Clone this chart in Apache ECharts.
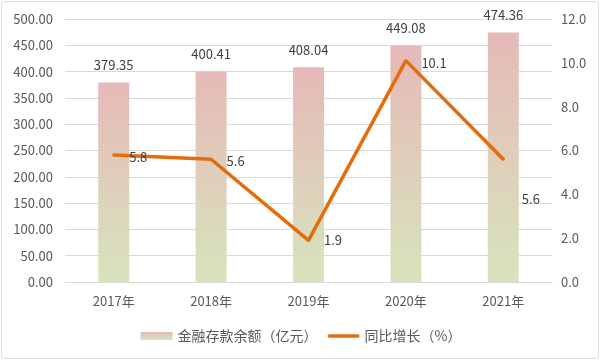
<!DOCTYPE html>
<html><head><meta charset="utf-8">
<script src="https://cdn.jsdelivr.net/npm/echarts@6/dist/echarts.min.js"></script>
<style>
html,body{margin:0;padding:0;background:#fff;}
#wrap{position:absolute;left:1px;top:1px;width:598px;height:358px;border:1px solid #d9d9d9;border-radius:3px;box-sizing:border-box;}
#c{position:absolute;left:0;top:0;width:602px;height:362px;}
</style></head>
<body>
<div id="wrap"></div>
<div id="c"></div>
<script>
const categories = ['2017年','2018年','2019年','2020年','2021年'];
const deposits = [379.35, 400.41, 408.04, 449.08, 474.36];
const growth = [5.8, 5.6, 1.9, 10.1, 5.6];
const leftTicks = {min:0, max:500, interval:50};
const rightTicks = {min:0, max:12, interval:2};
const seriesNames = ['金融存款余额（亿元）','同比增长（%）'];

const font = '"Noto Sans CJK SC", "DejaVu Sans", sans-serif';
const lineLabelOffsets = [[0,2],[0,2],[0,0],[0,2],[3,40]];

const chart = echarts.init(document.getElementById('c'));
chart.setOption({
  animation:false,
  textStyle:{fontFamily:font},
  grid:{left:65, right:50, top:19, bottom:80},
  legend:{
    bottom:14, left:'center', itemGap:10, itemWidth:32, itemHeight:8,
    textStyle:{color:'#595959', fontSize:14, fontFamily:font},
    data:[
      {name:seriesNames[0], icon:'rect'},
      {name:seriesNames[1], icon:'path://M2,0 h32 a2,2 0 0 1 0,4 h-32 a2,2 0 0 1 0,-4 z', itemStyle:{color:'#E46C0A'}}
    ]
  },
  xAxis:{
    type:'category', data:categories,
    axisLine:{lineStyle:{color:'#d9d9d9'}},
    axisTick:{show:false},
    axisLabel:{color:'#595959', fontSize:13, margin:13, fontFamily:font}
  },
  yAxis:[
    {type:'value', min:leftTicks.min, max:leftTicks.max, interval:leftTicks.interval,
     axisLabel:{color:'#595959', fontSize:13, margin:12, formatter:v=>v.toFixed(2)},
     splitLine:{lineStyle:{color:'#d9d9d9'}}, axisLine:{show:false}, axisTick:{show:false}},
    {type:'value', min:rightTicks.min, max:rightTicks.max, interval:rightTicks.interval,
     axisLabel:{color:'#595959', fontSize:13, margin:9, formatter:v=>v.toFixed(1)},
     splitLine:{show:false}, axisLine:{show:false}, axisTick:{show:false}}
  ],
  series:[
    {name:seriesNames[0], type:'bar', yAxisIndex:0, data:deposits, barWidth:31,
     itemStyle:{color:new echarts.graphic.LinearGradient(0,0,0,1,[
       {offset:0,color:'#E6B9B8'},{offset:1,color:'#D7E4BD'}])},
     label:{show:true, position:'top', color:'#404040', fontSize:13, distance:11,
       formatter:p=>p.value.toFixed(2)}},
    {name:seriesNames[1], type:'line', yAxisIndex:1,
     data:growth.map((v,i)=>({value:v, label:{offset:lineLabelOffsets[i]}})),
     symbol:'circle', symbolSize:3, showSymbol:true,
     lineStyle:{color:'#E46C0A', width:3.5}, itemStyle:{color:'#E46C0A'},
     label:{show:true, position:'right', color:'#404040', fontSize:13, distance:14}}
  ]
});
</script>
</body></html>
